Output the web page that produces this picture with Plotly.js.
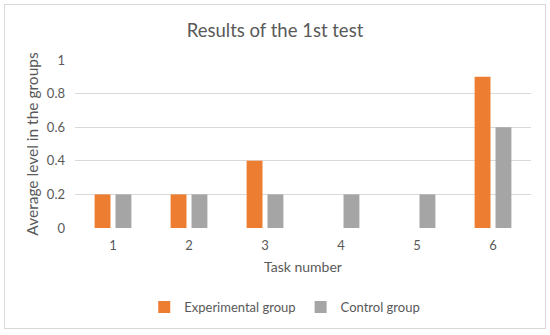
<!DOCTYPE html>
<html>
<head>
<meta charset="utf-8">
<script src="https://cdn.plot.ly/plotly-3.0.1.min.js"></script>
<style>
html,body{margin:0;padding:0;background:#fff;}
#chart{width:550px;height:335px;position:absolute;left:0;top:0;}
#frame{position:absolute;left:4px;top:4px;width:542px;height:325px;border:1px solid #d9d9d9;pointer-events:none;box-sizing:border-box;}
</style>
</head>
<body>
<div id="chart"></div>
<div id="frame"></div>
<script>
var categories = ["1", "2", "3", "4", "5", "6"];
var experimental = [0.2, 0.2, 0.4, 0, 0, 0.9];
var control = [0.2, 0.2, 0.2, 0.2, 0.2, 0.6];
var seriesNames = ["Experimental group", "Control group"];
var yTicks = [0, 0.2, 0.4, 0.6, 0.8, 1];
var yTickLabels = ["0", "0.2", "0.4", "0.6", "0.8", "1"];

var font = "Lato, 'Open Sans', sans-serif";
var data = [
  {type: "bar", name: seriesNames[0], x: categories, y: experimental, marker: {color: "#ED7D31"}, hoverinfo: "none"},
  {type: "bar", name: seriesNames[1], x: categories, y: control, marker: {color: "#A5A5A5"}, hoverinfo: "none"}
];
var layout = {
  width: 550, height: 335,
  margin: {l: 75, r: 19, t: 60, b: 107},
  paper_bgcolor: "#fff", plot_bgcolor: "#fff",
  font: {family: font, color: "#595959", size: 12},
  title: {text: "Results of the 1st test", font: {family: font, size: 18.5, color: "#595959"}, x: 0.5, xanchor: "center", y: 0.91, yanchor: "middle"},
  barmode: "group", bargap: 0.45, bargroupgap: 0.24,
  xaxis: {type: "category", showgrid: false, zeroline: false, showline: false, ticks: "", ticklabelstandoff: 8, tickfont: {size: 13, color: "#595959"},
    title: {text: "Task number", font: {size: 14, color: "#595959"}, standoff: 10}},
  yaxis: {range: [0, 1], tickvals: yTicks, ticktext: yTickLabels, showgrid: true, gridcolor: "#d9d9d9", gridwidth: 1, zeroline: false, showline: false, ticks: "", ticklabelstandoff: 9,
    tickfont: {size: 13, color: "#595959"},
    title: {text: "Average level in the groups", font: {size: 15.5, color: "#595959"}, standoff: 4}},
  showlegend: true,
  legend: {orientation: "h", x: 0.46, xanchor: "center", y: -0.47, yanchor: "middle", font: {size: 13, color: "#595959"}, itemwidth: 30, traceorder: "normal"}
};
Plotly.newPlot("chart", data, layout, {displayModeBar: false, staticPlot: true});
</script>
</body>
</html>
